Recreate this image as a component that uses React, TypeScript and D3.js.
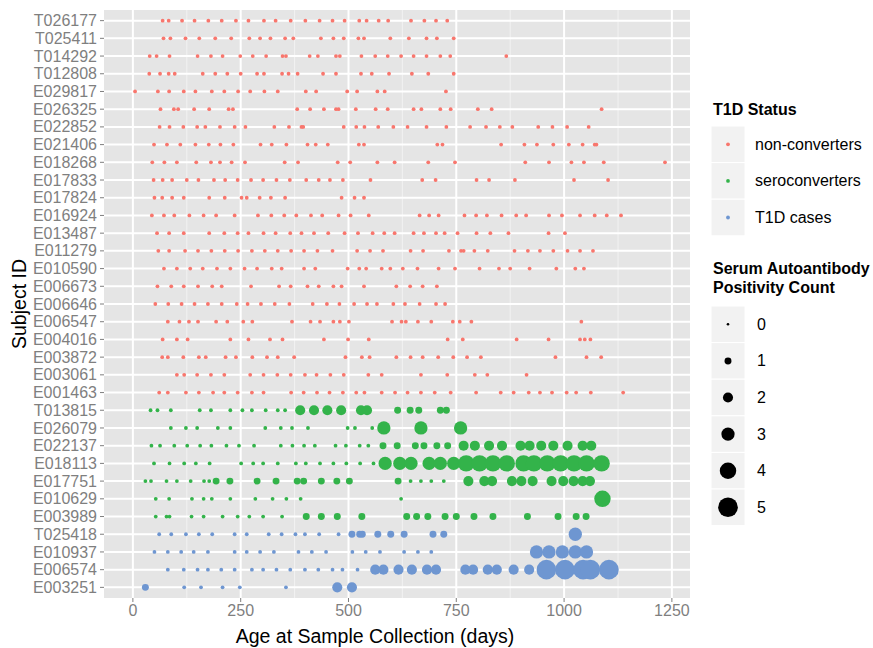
import React from 'react';
import * as d3 from 'd3';

// subjects, top row first
const nonConverters = ["T026177", "T025411", "T014292", "T012808", "E029817", "E026325", "E022852", "E021406", "E018268", "E017833", "E017824", "E016924", "E013487", "E011279", "E010590", "E006673", "E006646", "E006547", "E004016", "E003872", "E003061", "E001463"];
const seroconverters = ["T013815", "E026079", "E022137", "E018113", "E017751", "E010629", "E003989"];
const t1dCases = ["T025418", "E010937", "E006574", "E003251"];

// sample ages (days) for non-converters, autoantibody count 0
const nonConverterDays: Record<string, number[]> = {
  T026177: [69, 83, 114, 143, 175, 206, 239, 268, 304, 331, 366, 400, 433, 463, 491, 525, 542, 570, 592, 645, 676, 703, 729],
  T025411: [71, 87, 122, 154, 191, 228, 270, 295, 319, 353, 372, 436, 465, 489, 523, 536, 597, 640, 681, 705, 744],
  T014292: [39, 55, 85, 150, 181, 208, 249, 278, 309, 347, 355, 410, 429, 471, 480, 530, 562, 591, 622, 651, 681, 713, 736, 866],
  T012808: [38, 63, 83, 97, 162, 191, 219, 250, 288, 304, 346, 361, 382, 441, 471, 529, 554, 594, 647, 685, 744],
  E029817: [5, 58, 84, 118, 145, 183, 212, 244, 272, 305, 336, 401, 425, 497, 520, 567, 584, 726],
  E026325: [64, 95, 105, 142, 177, 222, 232, 381, 411, 443, 471, 477, 517, 563, 591, 651, 669, 713, 737, 800, 832, 1087],
  E022852: [62, 85, 117, 149, 168, 202, 236, 261, 328, 362, 391, 395, 489, 518, 537, 569, 604, 637, 681, 727, 782, 819, 851, 880, 940, 973, 1007, 1057],
  E021406: [49, 79, 110, 145, 176, 203, 233, 296, 322, 356, 405, 424, 452, 524, 536, 706, 718, 854, 908, 937, 975, 1011, 1043, 1071, 1075],
  E018268: [45, 73, 102, 147, 181, 202, 229, 260, 352, 383, 475, 504, 567, 607, 685, 747, 910, 965, 1017, 1046, 1092, 1234],
  E017833: [48, 69, 91, 125, 152, 188, 214, 243, 274, 302, 333, 364, 402, 431, 457, 487, 551, 671, 702, 797, 826, 886, 1023, 1102],
  E017824: [50, 68, 91, 118, 177, 213, 252, 264, 294, 320, 353, 484, 514, 536],
  E016924: [44, 72, 96, 131, 164, 193, 236, 290, 321, 351, 379, 413, 439, 477, 505, 547, 665, 687, 709, 769, 796, 821, 855, 889, 912, 965, 995, 1037, 1071, 1099, 1132],
  E013487: [56, 84, 118, 177, 212, 243, 268, 303, 331, 365, 391, 420, 453, 491, 522, 556, 583, 607, 651, 675, 703, 723, 753, 797, 829, 871, 964, 1002],
  E011279: [59, 84, 121, 151, 182, 213, 244, 276, 306, 336, 367, 397, 428, 463, 520, 550, 580, 644, 673, 733, 761, 767, 792, 823, 885, 916, 944, 975, 1008, 1037, 1067],
  E010590: [72, 102, 133, 162, 195, 226, 259, 288, 322, 345, 397, 423, 498, 525, 541, 577, 597, 626, 660, 709, 747, 804, 849, 875, 920, 982, 1026, 1046],
  E006673: [57, 89, 118, 151, 184, 206, 274, 339, 366, 405, 431, 465, 484, 536, 611, 643, 672, 705],
  E006646: [52, 82, 113, 143, 174, 206, 241, 266, 297, 329, 363, 417, 450, 479, 513, 543, 566, 604, 631, 665, 703, 724],
  E006547: [81, 108, 130, 151, 193, 219, 256, 277, 369, 412, 434, 465, 480, 501, 601, 623, 633, 661, 692, 742, 758, 785, 1040],
  E004016: [69, 102, 127, 226, 268, 318, 347, 443, 499, 547, 730, 765, 890, 964, 1037, 1048, 1061],
  E003872: [68, 81, 117, 153, 169, 215, 239, 277, 311, 336, 374, 493, 531, 549, 611, 644, 672, 708, 743, 775, 807, 980, 1052, 1086],
  E003061: [102, 119, 149, 181, 212, 272, 303, 335, 366, 399, 426, 458, 489, 546, 577, 668, 729, 793, 822, 913],
  E001463: [61, 81, 123, 153, 186, 212, 243, 276, 303, 367, 396, 427, 456, 487, 518, 537, 577, 608, 637, 668, 700, 737, 796, 853, 883, 918, 944, 972, 1006, 1028, 1062, 1137],
};

// [age in days, autoantibody positivity count]
const converterVisits: Record<string, [number, number][]> = {
  T013815: [[41, 0], [57, 0], [88, 0], [155, 0], [181, 0], [226, 0], [254, 0], [276, 0], [308, 0], [336, 0], [353, 0], [388, 2], [420, 2], [451, 2], [483, 2], [529, 2], [543, 2], [614, 1], [643, 1], [663, 1], [713, 1], [727, 1]],
  E026079: [[88, 0], [123, 0], [149, 0], [197, 0], [226, 0], [307, 0], [343, 0], [369, 0], [406, 0], [498, 0], [515, 0], [555, 0], [582, 3], [668, 3], [760, 3]],
  E022137: [[43, 0], [63, 0], [96, 0], [126, 0], [156, 0], [182, 0], [217, 0], [246, 0], [281, 0], [343, 0], [370, 0], [397, 0], [422, 0], [470, 0], [494, 0], [526, 0], [546, 0], [580, 1], [613, 1], [655, 1], [675, 1], [705, 1], [730, 1], [767, 2], [793, 2], [826, 2], [856, 2], [899, 2], [920, 2], [947, 2], [975, 2], [1008, 2], [1043, 2], [1063, 2]],
  E018113: [[49, 0], [85, 0], [119, 0], [146, 0], [178, 0], [251, 0], [279, 0], [302, 0], [336, 0], [378, 0], [401, 0], [434, 0], [465, 0], [495, 0], [527, 0], [558, 0], [585, 3], [619, 3], [645, 3], [687, 3], [713, 3], [744, 3], [773, 4], [804, 4], [835, 4], [867, 4], [906, 4], [930, 4], [961, 4], [992, 4], [1023, 4], [1052, 4], [1087, 4]],
  E017751: [[29, 0], [42, 0], [78, 0], [102, 0], [134, 0], [165, 0], [177, 0], [193, 1], [225, 1], [288, 1], [332, 1], [381, 1], [396, 1], [437, 1], [473, 1], [502, 1], [615, 1], [644, 0], [668, 0], [692, 0], [721, 0], [778, 2], [815, 2], [833, 2], [879, 2], [901, 2], [927, 2], [971, 2], [998, 2], [1022, 2], [1043, 2], [1060, 2]],
  E010629: [[53, 0], [84, 0], [137, 0], [164, 0], [183, 0], [226, 0], [284, 0], [324, 0], [356, 0], [389, 0], [622, 0], [1089, 4]],
  E003989: [[53, 0], [78, 0], [85, 0], [136, 0], [164, 0], [208, 0], [243, 0], [270, 0], [302, 0], [346, 0], [402, 1], [437, 1], [474, 1], [531, 1], [635, 1], [658, 1], [684, 1], [724, 1], [750, 1], [791, 1], [835, 1], [915, 1], [986, 1], [1028, 1], [1051, 1]],
  T025418: [[61, 0], [89, 0], [123, 0], [153, 0], [184, 0], [236, 0], [264, 0], [315, 0], [345, 0], [377, 0], [399, 0], [432, 0], [477, 0], [508, 1], [526, 1], [532, 1], [568, 1], [598, 1], [629, 1], [696, 1], [721, 1], [1026, 3]],
  E010937: [[50, 0], [81, 0], [112, 0], [141, 0], [174, 0], [236, 0], [264, 0], [295, 0], [327, 0], [384, 0], [415, 0], [448, 0], [509, 0], [540, 0], [573, 0], [629, 0], [661, 0], [692, 0], [936, 3], [965, 3], [996, 3], [1026, 3], [1052, 3]],
  E006574: [[81, 0], [118, 0], [150, 0], [174, 0], [205, 0], [236, 0], [276, 0], [302, 0], [333, 0], [365, 0], [399, 0], [430, 0], [463, 0], [486, 0], [521, 0], [562, 2], [581, 2], [616, 2], [647, 2], [682, 2], [703, 2], [771, 2], [789, 2], [823, 2], [844, 2], [883, 2], [919, 2], [959, 5], [1002, 5], [1044, 5], [1061, 5], [1104, 5]],
  E003251: [[29, 1], [119, 0], [158, 0], [208, 0], [248, 0], [355, 0], [474, 2], [508, 2]],
};

const statusLabels = ["non-converters", "seroconverters", "T1D cases"];
const statusColors = ["#F8766D", "#33B34A", "#6E96D1"];
const countBreaks = [0, 1, 2, 3, 4, 5];
const xTicks = [0, 250, 500, 750, 1000, 1250];
const xMinorTicks = [125, 375, 625, 875, 1125];

const W = 873, H = 648;
const margin = { left: 104, top: 10, right: 183, bottom: 50 };
const font = "'Liberation Sans', Arial, Helvetica, sans-serif";

export default function App() {
  const subjects = [...nonConverters, ...seroconverters, ...t1dCases];
  const statusIndex = (s: string) => nonConverters.includes(s) ? 0 : seroconverters.includes(s) ? 1 : 2;

  const points: { subject: string; day: number; count: number; status: number }[] = [];
  nonConverters.forEach(s => nonConverterDays[s].forEach(d => points.push({ subject: s, day: d, count: 0, status: 0 })));
  [...seroconverters, ...t1dCases].forEach(s => converterVisits[s].forEach(([d, c]) => points.push({ subject: s, day: d, count: c, status: statusIndex(s) })));

  const x = d3.scaleLinear().domain([-67, 1292]).range([margin.left, W - margin.right]);
  const y = d3.scalePoint().domain(subjects).range([margin.top, H - margin.bottom]).padding(0.6);
  const r = d3.scaleLinear().domain([0, 5]).range([1.9, 9.8]);

  const px0 = margin.left, px1 = W - margin.right, py0 = margin.top, py1 = H - margin.bottom;

  const legX = 711, keyW = 34, keyH = 36.6;
  const leg1Top = 126;
  const leg2Top = 306;

  return (
    <svg width={W} height={H} style={{ position: 'absolute', left: 0, top: 0, background: '#fff' }} fontFamily={font}>
      <rect x={px0} y={py0} width={px1 - px0} height={py1 - py0} fill="#E5E5E5" />
      {xMinorTicks.map(t => (
        <line key={'m' + t} x1={x(t)} x2={x(t)} y1={py0} y2={py1} stroke="#F2F2F2" strokeWidth={1} />
      ))}
      {xTicks.map(t => (
        <line key={'g' + t} x1={x(t)} x2={x(t)} y1={py0} y2={py1} stroke="#fff" strokeWidth={2} />
      ))}
      {subjects.map(s => (
        <line key={'h' + s} x1={px0} x2={px1} y1={y(s)} y2={y(s)} stroke="#fff" strokeWidth={2} />
      ))}
      <g>
        {points.map((p, i) => (
          <circle key={i} cx={x(p.day)} cy={y(p.subject)} r={r(p.count)} fill={statusColors[p.status]} />
        ))}
      </g>
      {/* y axis */}
      {subjects.map(s => (
        <g key={'yt' + s}>
          <line x1={px0 - 4} x2={px0} y1={y(s)} y2={y(s)} stroke="#7F7F7F" strokeWidth={1} />
          <text x={px0 - 7} y={y(s)} dy="0.35em" textAnchor="end" fontSize={16} fill="#7F7F7F">{s}</text>
        </g>
      ))}
      {/* x axis */}
      {xTicks.map(t => (
        <g key={'xt' + t}>
          <line x1={x(t)} x2={x(t)} y1={py1} y2={py1 + 4} stroke="#7F7F7F" strokeWidth={1} />
          <text x={x(t)} y={py1 + 18} textAnchor="middle" fontSize={16} fill="#7F7F7F">{t}</text>
        </g>
      ))}
      <text x={375} y={643} textAnchor="middle" fontSize={19.5}>Age at Sample Collection (days)</text>
      <text transform={`translate(26,${(py0 + py1) / 2}) rotate(-90)`} textAnchor="middle" fontSize={19.5}>Subject ID</text>

      {/* colour legend */}
      <text x={legX + 2} y={leg1Top - 11} fontSize={16} fontWeight="bold">T1D Status</text>
      {statusLabels.map((lab, i) => (
        <g key={lab} transform={`translate(${legX},${leg1Top + i * keyH})`}>
          <rect width={keyW} height={keyH} fill="#F2F2F2" stroke="#fff" strokeWidth={1} />
          <circle cx={keyW / 2} cy={keyH / 2} r={r(0)} fill={statusColors[i]} />
          <text x={keyW + 10} y={keyH / 2} dy="0.35em" fontSize={16}>{lab}</text>
        </g>
      ))}

      {/* size legend */}
      <text x={legX + 2} y={leg2Top - 32} fontSize={16} fontWeight="bold">Serum Autoantibody</text>
      <text x={legX + 2} y={leg2Top - 13} fontSize={16} fontWeight="bold">Positivity Count</text>
      {countBreaks.map((c, i) => (
        <g key={'c' + c} transform={`translate(${legX},${leg2Top + i * keyH})`}>
          <rect width={keyW} height={keyH} fill="#F2F2F2" stroke="#fff" strokeWidth={1} />
          <circle cx={keyW / 2} cy={keyH / 2} r={c === 0 ? 1.3 : r(c)} fill="#000" />
          <text x={keyW + 12} y={keyH / 2} dy="0.35em" fontSize={16}>{c}</text>
        </g>
      ))}
    </svg>
  );
}
